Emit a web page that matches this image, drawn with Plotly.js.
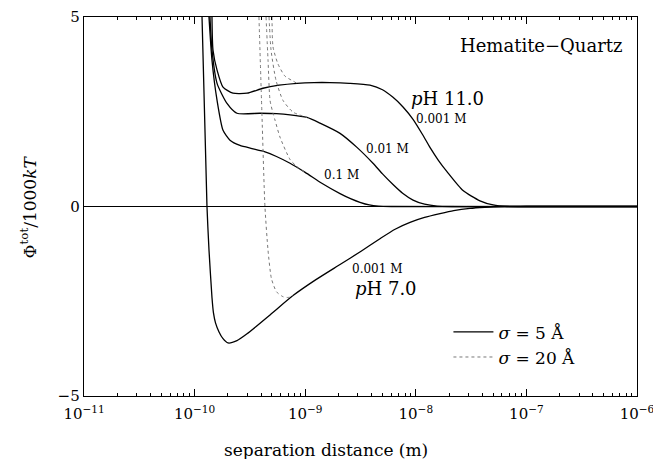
<!DOCTYPE html>
<html><head><meta charset="utf-8">
<script src="https://cdn.plot.ly/plotly-3.0.1.min.js"></script>
<style>html,body{margin:0;padding:0;background:#fff}#chart{width:653px;height:459px}</style>
</head><body><div id="chart"></div>
<script>
// separation distance (m) and potential (phi_tot / 1000 kT)
const ph7_s5_x = [1.167e-10, 1.294e-10, 1.35e-10, 1.436e-10, 1.48e-10, 1.545e-10, 1.663e-10, 1.80e-10, 2.004e-10, 2.415e-10, 2.979e-10, 4.808e-10, 7.762e-10, 1.25e-9, 2.065e-9, 3.2e-9, 4.742e-9, 6.5e-9, 8.87e-9, 1.2e-8, 1.655e-8, 2.2e-8, 3.09e-8, 4.2e-8, 5.77e-8, 1e-7, 1e-6];
const ph7_s5_y = [5, 0, -1.16, -2.40, -2.80, -3.07, -3.31, -3.48, -3.60, -3.54, -3.36, -2.86, -2.35, -1.93, -1.53, -1.18, -0.85, -0.60, -0.42, -0.29, -0.19, -0.11, -0.05, -0.02, 0, 0, 0];

const ph11_001_s5_x = [1.436e-10, 1.466e-10, 1.596e-10, 1.807e-10, 2.223e-10, 2.979e-10, 4.150e-10, 5.8e-10, 8.433e-10, 1.2e-9, 1.675e-9, 2.5e-9, 3.855e-9, 5.0e-9, 6.223e-9, 7.7e-9, 9.441e-9, 1.15e-8, 1.343e-8, 1.6e-8, 1.914e-8, 2.673e-8, 3.802e-8, 5.0e-8, 6.683e-8, 1e-7, 1e-6];
const ph11_001_s5_y = [5, 4.13, 3.60, 3.15, 2.99, 2.99, 3.12, 3.20, 3.25, 3.27, 3.27, 3.25, 3.20, 3.08, 2.88, 2.62, 2.30, 1.90, 1.56, 1.22, 0.92, 0.42, 0.15, 0.04, 0, 0, 0];

const ph11_01_s5_x = [1.377e-10, 1.436e-10, 1.596e-10, 1.963e-10, 2.415e-10, 3.899e-10, 5.5e-10, 7.295e-10, 1.038e-9, 1.361e-9, 2.065e-9, 2.938e-9, 4.102e-9, 5.0e-9, 6.223e-9, 7.6e-9, 9.441e-9, 1.2e-8, 1.556e-8, 2.2e-8, 1e-7, 1e-6];
const ph11_01_s5_y = [5, 4.13, 3.25, 2.72, 2.46, 2.46, 2.45, 2.42, 2.35, 2.20, 1.93, 1.56, 1.14, 0.86, 0.58, 0.35, 0.17, 0.06, 0.01, 0, 0, 0];

const ph11_1_s5_x = [1.349e-10, 1.436e-10, 1.596e-10, 1.807e-10, 2.089e-10, 2.570e-10, 3.3e-10, 4.150e-10, 5.5e-10, 7.295e-10, 1.0e-9, 1.4e-9, 2.065e-9, 2.6e-9, 3.126e-9, 3.8e-9, 4.6e-9, 6.0e-9, 1e-7, 1e-6];
const ph11_1_s5_y = [5, 3.86, 2.80, 2.01, 1.75, 1.61, 1.53, 1.46, 1.32, 1.14, 0.90, 0.62, 0.34, 0.20, 0.11, 0.04, 0.01, 0, 0, 0];

const ph7_s20_x = [3.819e-10, 4.064e-10, 4.325e-10, 4.613e-10, 4.95e-10, 5.5e-10, 6.3e-10, 7.0e-10, 7.762e-10];
const ph7_s20_y = [5, 2.43, 0, -1.16, -1.90, -2.25, -2.38, -2.40, -2.35];

const ph11_001_s20_x = [5.012e-10, 5.117e-10, 5.675e-10, 6.561e-10, 7.762e-10, 8.433e-10];
const ph11_001_s20_y = [5, 4.21, 3.76, 3.44, 3.31, 3.25];

const ph11_01_s20_x = [4.710e-10, 4.91e-10, 5.445e-10, 6.295e-10, 7.762e-10, 1.038e-9];
const ph11_01_s20_y = [5, 4.13, 3.33, 2.80, 2.49, 2.35];

const ph11_1_s20_x = [4.426e-10, 4.613e-10, 4.808e-10, 5.117e-10, 5.333e-10, 5.916e-10, 7.295e-10, 8.433e-10, 1.0e-9];
const ph11_1_s20_y = [5, 3.86, 2.80, 2.46, 2.28, 1.83, 1.24, 1.05, 0.90];

const xTickVals = [1e-11, 1e-10, 1e-9, 1e-8, 1e-7, 1e-6];
const xTickText = ['10<sup>−11</sup>', '10<sup>−10</sup>', '10<sup>−9</sup>', '10<sup>−8</sup>', '10<sup>−7</sup>', '10<sup>−6</sup>'];
const yTickVals = [-5, 0, 5];
const yTickText = ['−5', '0', '5'];
const minorMult = [2, 3, 4, 5, 6, 7, 8, 9];

const minorVals = [];
for (let d = 0; d < xTickVals.length - 1; d++) for (const m of minorMult) minorVals.push(m * xTickVals[d]);

const SERIF = 'DejaVu Serif, serif';
const solid = {color: '#000', width: 1.3, shape: 'spline', smoothing: 0.6};
const dotted = {color: '#777', width: 1, dash: 'dot', shape: 'spline', smoothing: 0.6};

function tr(x, y, line, name, show) {
  return {x: x, y: y, type: 'scatter', mode: 'lines', line: line, name: name,
          legendgroup: name, showlegend: show, hoverinfo: 'skip'};
}

const data = [
  tr(ph7_s5_x, ph7_s5_y, solid, '<i>σ</i> = 5 Å', true),
  tr(ph11_001_s5_x, ph11_001_s5_y, solid, '<i>σ</i> = 5 Å', false),
  tr(ph11_01_s5_x, ph11_01_s5_y, solid, '<i>σ</i> = 5 Å', false),
  tr(ph11_1_s5_x, ph11_1_s5_y, solid, '<i>σ</i> = 5 Å', false),
  tr(ph7_s20_x, ph7_s20_y, dotted, '<i>σ</i> = 20 Å', true),
  tr(ph11_001_s20_x, ph11_001_s20_y, dotted, '<i>σ</i> = 20 Å', false),
  tr(ph11_01_s20_x, ph11_01_s20_y, dotted, '<i>σ</i> = 20 Å', false),
  tr(ph11_1_s20_x, ph11_1_s20_y, dotted, '<i>σ</i> = 20 Å', false)
];

function ann(text, x, y, size, xanchor) {
  return {text: text, x: x, y: y, xref: 'x', yref: 'y', showarrow: false,
    xanchor: xanchor || 'center', yanchor: 'middle', font: {family: SERIF, size: size, color: '#000'}};
}

const layout = {
  width: 653, height: 459,
  margin: {l: 84, r: 16, t: 17, b: 63},
  paper_bgcolor: '#fff', plot_bgcolor: '#fff',
  showlegend: true,
  legend: {x: 0.659, y: 0.135, xanchor: 'left', yanchor: 'middle', bgcolor: 'rgba(0,0,0,0)',
           font: {family: SERIF, size: 17, color: '#000'}, tracegroupgap: 0, itemwidth: 40},
  xaxis: {type: 'log', range: [-11.00001, -5.99999], tickmode: 'array', tickvals: xTickVals, ticktext: xTickText,
          ticks: 'inside', ticklen: 7, tickwidth: 1, tickcolor: '#000', ticklabelstandoff: 4,
          ticklabeloverflow: 'allow',
          minor: {tickmode: 'array', tickvals: minorVals, ticks: 'inside', ticklen: 3, tickcolor: '#000', showgrid: false},
          showline: true, linecolor: '#000', linewidth: 1.3, mirror: 'ticks', showgrid: false, zeroline: false,
          tickfont: {family: SERIF, size: 15, color: '#000'}},
  yaxis: {range: [-5, 5], tickmode: 'array', tickvals: yTickVals, ticktext: yTickText,
          ticks: '', showline: true, linecolor: '#000', linewidth: 1.3, mirror: true, showgrid: false,
          zeroline: true, zerolinecolor: '#000', zerolinewidth: 1.2,
          tickfont: {family: SERIF, size: 15, color: '#000'}},
  annotations: [
    ann('Hematite−Quartz', -6.109, 4.26, 18, 'right'),
    ann('<i>p</i>H 11.0', -7.709, 2.86, 18),
    ann('0.001 M', -7.772, 2.30, 12),
    ann('0.01 M', -8.260, 1.53, 12),
    ann('0.1 M', -8.676, 0.82, 12),
    ann('0.001 M', -8.351, -1.64, 12),
    ann('<i>p</i>H 7.0', -8.269, -2.17, 18),
    {text: 'separation distance (m)', xref: 'paper', yref: 'paper', x: 0.4376, y: -0.1425,
     xanchor: 'center', yanchor: 'middle', showarrow: false, font: {family: SERIF, size: 17, color: '#000'}},
    {text: 'Φ<sup>tot</sup>/1000<i>kT</i>', xref: 'paper', yref: 'paper', x: -0.1013, y: 0.5,
     xanchor: 'center', yanchor: 'middle', textangle: -90, showarrow: false, font: {family: SERIF, size: 17, color: '#000'}}
  ]
};

Plotly.newPlot('chart', data, layout, {staticPlot: true, displayModeBar: false});
</script></body></html>
